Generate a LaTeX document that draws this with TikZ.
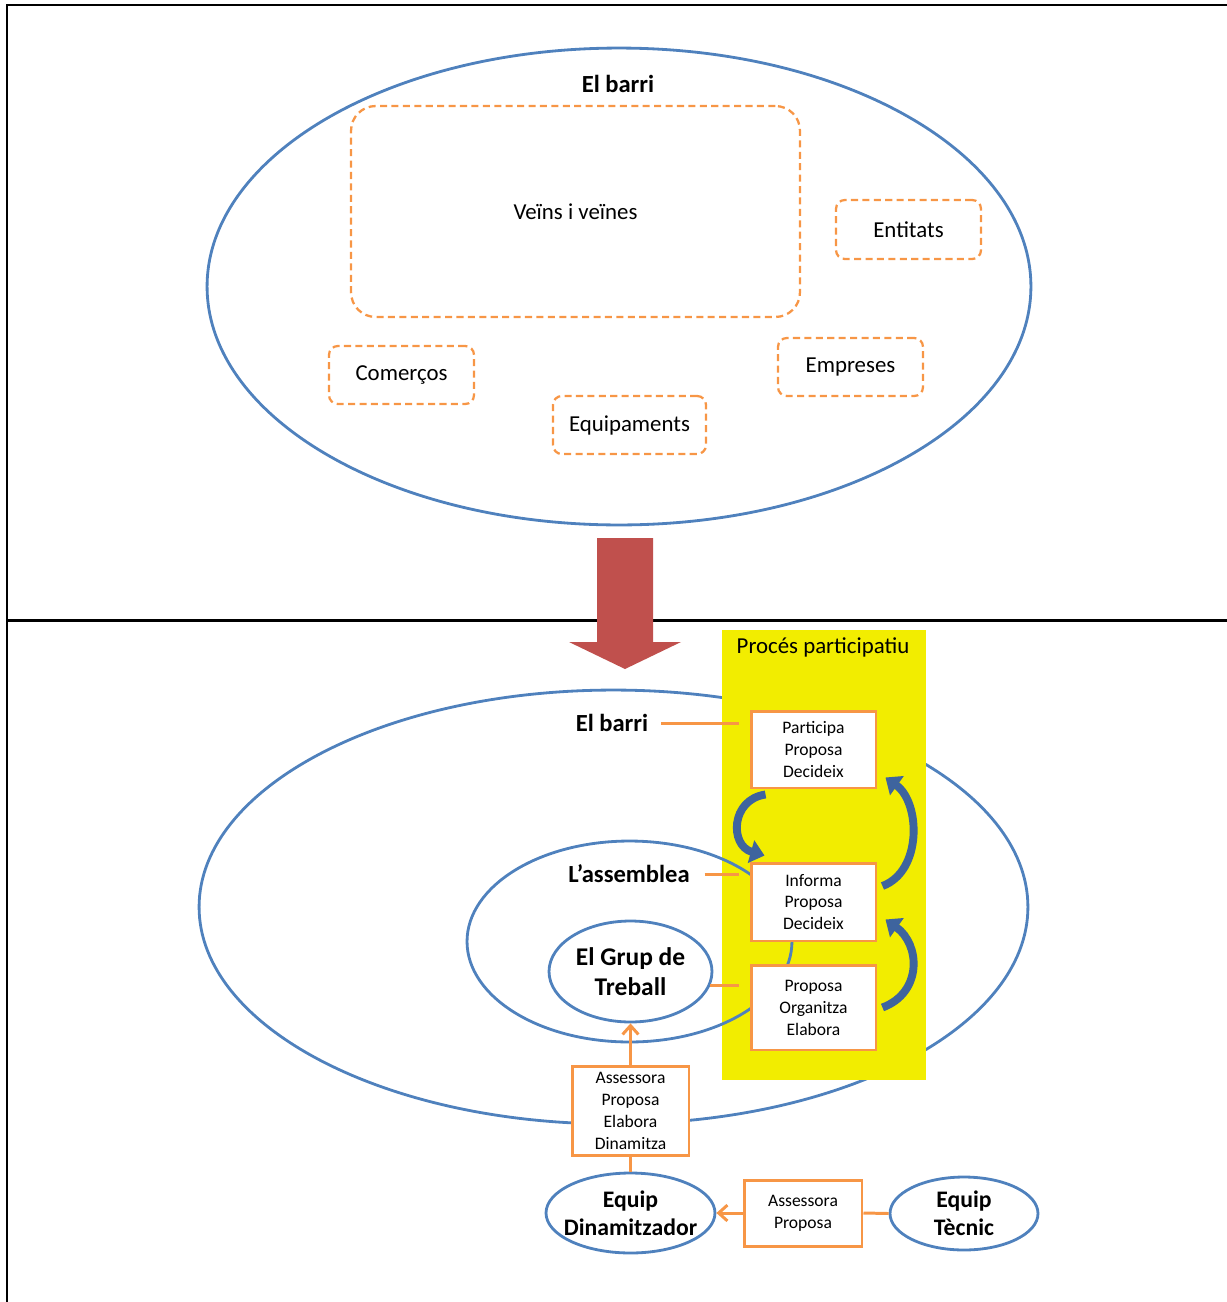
\documentclass[tikz,border=0pt]{standalone}
\usepackage{fontspec}
\setmainfont{Carlito}
\usetikzlibrary{shapes.geometric,arrows.meta,calc}
\definecolor{ovalblue}{RGB}{79,129,189}
\definecolor{loopblue}{RGB}{62,100,158}
\definecolor{linkorange}{RGB}{247,150,70}
\definecolor{arrowred}{RGB}{192,80,77}
\definecolor{procyellow}{RGB}{242,237,0}

\begin{document}
\begin{tikzpicture}[x=0.02cm, y=-0.02cm,
  oval/.style={ellipse, draw=ovalblue, line width=1.6pt, inner sep=0pt, align=center},
  dashbox/.style={draw=linkorange, line width=1.3pt, dash pattern=on 4pt off 2.5pt, rounded corners=5pt, font=\fontsize{13}{15}\selectfont},
  rolebox/.style={draw=linkorange, fill=white, line width=1.7pt, align=center, inner sep=0pt, minimum width=2.5cm, font=\fontsize{10}{12.5}\selectfont},
  link/.style={draw=linkorange, line width=1.7pt},
  loop/.style={draw=loopblue, line width=4.5pt, -{Triangle[length=8pt,width=13pt]}},
  bigtitle/.style={font=\bfseries\fontsize{14}{17}\selectfont}]

\useasboundingbox (0,0) rectangle (1227,1302);

% frame
\draw[line width=1.7pt] (1227,5) -- (7,5) -- (7,1302);
\draw[line width=1.7pt] (7,620) -- (1227,620);

% top: the neighbourhood
\node[oval, minimum width=16.48cm, minimum height=9.54cm] (barri1) at (619,286.5) {};
\node[bigtitle] (title1) at (618,84) {El barri};
\node[dashbox, minimum width=8.98cm, minimum height=4.22cm, rounded corners=14pt] (veins) at (575.5,211.5) {Veïns i veïnes};
\node[dashbox, minimum width=2.9cm, minimum height=1.18cm] (entitats) at (908.5,229.5) {Entitats};
\node[dashbox, minimum width=2.9cm, minimum height=1.16cm] (empreses) at (850.5,367) {Empreses};
\node[dashbox, minimum width=2.9cm, minimum height=1.16cm] (comercos) at (401.5,375) {Comerços};
\node[dashbox, minimum width=3.06cm, minimum height=1.16cm] (equipaments) at (629.5,425) {Equipaments};

% big red arrow
\fill[arrowred] (597,538) -- (653,538) -- (653,642) -- (681,642) -- (625,669) -- (569,642) -- (597,642) -- cycle;

% bottom: the process
\node[oval, minimum width=16.58cm, minimum height=8.68cm] (barri2) at (613.5,907) {};
\fill[procyellow] (722,630) rectangle (926,1080);
\node[font=\fontsize{13}{15}\selectfont] (proces) at (823,647) {Procés participatiu};
\node[oval, minimum width=6.5cm, minimum height=4.02cm] (assemblea) at (629.5,941.5) {};
\node[oval, minimum width=3.26cm, minimum height=2.02cm, font=\bfseries\fontsize{14.5}{17}\selectfont] (grup) at (630.5,971.5) {El Grup de\\Treball};

\node[bigtitle] (barrilbl) at (612,723) {El barri};
\node[bigtitle] (asslbl) at (629,874) {L’assemblea};

\node[rolebox, minimum height=1.54cm] (participa) at (813.5,749.5) {Participa\\Proposa\\Decideix};
\node[rolebox, minimum height=1.56cm] (informa) at (813.5,902) {Informa\\Proposa\\Decideix};
\node[rolebox, minimum height=1.7cm] (organitza) at (813.5,1007.5) {Proposa\\Organitza\\Elabora};
\node[rolebox, minimum width=2.34cm, minimum height=1.78cm] (assessora) at (630.5,1110.5) {Assessora\\Proposa\\Elabora\\Dinamitza};
\node[oval, inner xsep=-6pt, inner ysep=-4pt, minimum width=3.38cm, minimum height=1.6cm, font=\bfseries\fontsize{13.5}{16}\selectfont] (dinam) at (630.5,1213) {Equip\\Dinamitzador};
\node[rolebox, minimum width=2.36cm, minimum height=1.32cm] (suport) at (803,1213) {Assessora\\Proposa};
\node[oval, minimum width=2.96cm, minimum height=1.46cm, font=\bfseries\fontsize{13.5}{16}\selectfont] (tecnic) at (964,1213.5) {Equip\\Tècnic};

% orange links
\draw[link, shorten <=4pt, shorten >=6pt] (barrilbl.east) -- (barrilbl.east -| participa.west);
\draw[link, shorten <=5pt, shorten >=6pt] (asslbl.east) -- (asslbl.east -| informa.west);
\draw[link, shorten >=6pt] (grup.-10) -- (grup.-10 -| organitza.west);
\draw[link, -{Straight Barb[length=5pt,width=9pt]}] (assessora.north) -- (grup.south);
\draw[link] (assessora.south) -- (dinam.north);
\draw[link, -{Straight Barb[length=5pt,width=9pt]}] (suport.west) -- (dinam.east);
\draw[link] (tecnic.west) -- (suport.east);

% blue loops
\draw[loop] ($(participa.south west)+(16,5)$) .. controls +(-35,5) and +(-35,-10) .. ($(informa.north west)+(15,-6)$);
\draw[loop] ($(informa.east)+(5,-16)$) .. controls +(40,-15) and +(35,25) .. ($(participa.south east)+(8,-12)$);
\draw[loop] ($(organitza.east)+(5,0)$) .. controls +(40,-15) and +(35,25) .. ($(informa.south east)+(8,-23)$);
\end{tikzpicture}
\end{document}
